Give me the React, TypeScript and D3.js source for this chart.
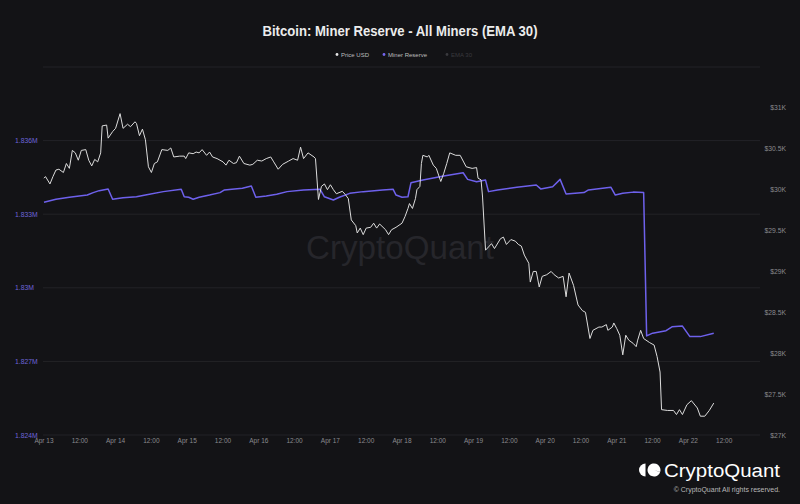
import React, { useRef, useEffect } from 'react';
import * as d3 from 'd3';

// hours counted from Apr 13 00:00 (UTC)
const priceHours = [0,0.5,2,3,4,5,6.5,7.5,8.5,9.5,10.5,11.5,12.5,14,15,16,17,18,19,19.5,21,21.5,23,24,25.5,26.5,28,29,30.5,31,32,33,34,35,36,37,38,39.5,41.5,42.5,43.5,45.5,47,47.5,48.5,50,51,52,53,54.5,55.5,56.5,58,60,61,62,63.5,64.5,65.5,67,69,70,71.5,73,74.5,76,77,78.5,80,82,83.5,85,86,87,88.5,90.5,91,92,93,94,95,96,97,98,100,101,102,103,104.5,105,106,107,108,109.5,110.5,111.5,112.5,114.5,115.5,116.5,118,120,121,122,122.5,123.5,124.5,125,126,126.5,127,128.5,129,130.5,131.5,133,134,135,136,138,139.5,140.5,141.5,143.5,145,145.5,146.5,147,148,149,150,151,153,154,155,156.5,158,159,160,161,162.5,163,164,165,166,167,168.5,170,171,172.5,174,175,176,177.5,179,180.5,181.5,183,184,186,187,188.5,189,190.5,191,192,193,194,195,196,197.5,198.5,199,200,201,203,204.5,205.5,206.5,207,209,211,212,213,214,215.5,217,219,220,221.5,223,224.5];
const priceUsd = [30140,30160,30070,30160,30240,30250,30210,30320,30260,30480,30450,30360,30480,30490,30360,30290,30370,30340,30450,30780,30790,30630,30710,30750,30930,30750,30800,30770,30830,30810,30660,30740,30610,30280,30210,30320,30340,30490,30480,30510,30400,30410,30410,30380,30450,30440,30460,30450,30490,30420,30460,30400,30380,30340,30300,30360,30320,30330,30410,30320,30300,30310,30360,30350,30380,30400,30340,30250,30310,30350,30380,30360,30520,30380,30450,30400,30380,29880,30040,30070,30000,30060,30000,29950,29980,29940,29890,29630,29560,29470,29530,29450,29530,29540,29590,29530,29580,29510,29450,29510,29540,29590,29670,29770,29830,29770,29890,30000,30040,30320,30420,30400,30420,30300,30260,30100,30200,30320,30450,30420,30420,30350,30280,30260,30270,30140,30120,29910,29260,29300,29340,29280,29400,29420,29330,29390,29370,29330,29310,29200,29100,28870,29000,29000,28810,28940,28960,29000,28960,28920,28940,28690,28980,28830,28590,28520,28500,28180,28280,28320,28320,28350,28280,28320,28370,28300,28220,27980,28220,28160,28120,28080,28160,28280,28180,28130,28100,27960,27770,27310,27300,27300,27250,27310,27250,27370,27420,27330,27230,27230,27300,27390];

const reserveHours = [0,4,8.5,14.5,16.5,18.5,21.5,23,26.5,31,34,40,46,47,48.5,50,52,55.5,59,60.5,63,66.5,69.5,71,74.5,78,81.5,87,92.5,94,97,99,102.5,107,113.5,117,118,120,122,123,127,134,140.5,142,145,148,149,152,158.5,165,166.5,170.5,173,175,181,182.5,190,191.5,194,197.5,201,202,204,208.5,210.5,214,216.5,220,224.5];
const reserveBtc = [1833490,1833610,1833690,1833780,1833880,1833960,1834030,1833610,1833670,1833710,1833780,1833920,1834020,1833710,1833690,1833610,1833690,1833780,1833880,1833990,1834020,1834060,1834150,1833690,1833740,1833810,1833920,1833990,1834020,1833710,1833580,1833690,1833850,1833920,1833990,1834020,1833780,1833690,1833710,1834280,1834390,1834560,1834690,1834420,1834320,1834390,1833920,1833990,1834100,1834190,1834030,1834120,1834420,1833820,1833880,1833990,1834100,1833780,1833850,1833900,1833880,1828040,1828150,1828250,1828410,1828440,1828010,1828010,1828150];

const reserveTicks = [1824000, 1827000, 1830000, 1833000, 1836000];
const priceTicks = [27000, 27500, 28000, 28500, 29000, 29500, 30000, 30500, 31000];
const legendItems = ['Price USD', 'Miner Reserve', 'EMA 30'];

const W = 800;
const H = 504;
const start = Date.UTC(2023, 3, 13);
const hourMs = 3600 * 1000;
const toDate = (h: number) => new Date(start + h * hourMs);

const FONT = '"Liberation Sans", Arial, Helvetica, sans-serif';

const App = () => {
  const svgRef = useRef<SVGSVGElement | null>(null);

  useEffect(() => {
    const svg = d3.select(svgRef.current);
    svg.selectAll('*').remove();

    svg.append('rect').attr('width', W).attr('height', H).attr('fill', '#131316');

    const x = d3.scaleUtc()
      .domain([toDate(0), toDate(240)])
      .range([44, 760]);
    const yL = d3.scaleLinear().domain([1824000, 1839000]).range([435, 67]);
    const yR = d3.scaleLinear().domain([27000, 31500]).range([435, 67]);

    // title
    svg.append('text')
      .attr('x', 400).attr('y', 36)
      .attr('text-anchor', 'middle')
      .attr('fill', '#ececec')
      .attr('font-family', '"Liberation Sans Narrow", ' + FONT)
      .attr('font-weight', 700)
      .attr('font-size', 15)
      .attr('textLength', 275)
      .attr('lengthAdjust', 'spacingAndGlyphs')
      .text('Bitcoin: Miner Reserve - All Miners (EMA 30)');

    // legend
    const legendX = [337, 384, 447];
    const legendCol = ['#e6e6e6', '#7466f0', '#3a3a3e'];
    const legendText = ['#bdbdbd', '#bdbdbd', '#3a3a3e'];
    const lg = svg.append('g');
    legendItems.forEach((name, i) => {
      lg.append('circle').attr('cx', legendX[i]).attr('cy', 54.5).attr('r', 1.4).attr('fill', legendCol[i]);
      lg.append('text')
        .attr('x', legendX[i] + 4).attr('y', 56.8)
        .attr('fill', legendText[i])
        .attr('font-family', FONT)
        .attr('font-size', 6)
        .text(name);
    });

    // gridlines
    const grid = svg.append('g');
    [...reserveTicks, 1839000].forEach(v => {
      grid.append('line')
        .attr('x1', 43).attr('x2', 760)
        .attr('y1', yL(v)).attr('y2', yL(v))
        .attr('stroke', '#232327').attr('stroke-width', 1);
    });

    // watermark
    svg.append('text')
      .attr('x', 400).attr('y', 259)
      .attr('text-anchor', 'middle')
      .attr('fill', '#26262b')
      .attr('font-family', FONT)
      .attr('font-size', 33)
      .attr('textLength', 188)
      .attr('lengthAdjust', 'spacingAndGlyphs')
      .text('CryptoQuant');

    // left axis labels
    const fmtM = d3.format('.4~f');
    svg.append('g').selectAll('text')
      .data(reserveTicks)
      .enter().append('text')
      .attr('x', 15).attr('y', d => yL(d) + 2.5)
      .attr('fill', '#6d64d8')
      .attr('font-family', FONT)
      .attr('font-size', 6.8)
      .text(d => fmtM(d / 1e6) + 'M');

    // right axis labels
    const fmtK = d3.format('.1~f');
    svg.append('g').selectAll('text')
      .data(priceTicks)
      .enter().append('text')
      .attr('x', 786).attr('y', d => yR(d) + 2.5)
      .attr('text-anchor', 'end')
      .attr('fill', '#8a8a8e')
      .attr('font-family', FONT)
      .attr('font-size', 6.8)
      .text(d => '$' + fmtK(d / 1000) + 'K');

    // x axis labels
    const fmtDay = d3.utcFormat('%b %-d');
    const xTicks = x.ticks(d3.utcHour.every(12)!).filter(d => d < toDate(240));
    svg.append('g').selectAll('text')
      .data(xTicks)
      .enter().append('text')
      .attr('x', d => x(d))
      .attr('y', 443)
      .attr('text-anchor', 'middle')
      .attr('fill', '#8a8a8e')
      .attr('font-family', FONT)
      .attr('font-size', 6.5)
      .text(d => (d.getUTCHours() === 0 ? fmtDay(d) : '12:00'));

    // lines
    const reserveData = reserveHours.map((h, i) => [toDate(h), reserveBtc[i]] as [Date, number]);
    const priceData = priceHours.map((h, i) => [toDate(h), priceUsd[i]] as [Date, number]);

    svg.append('path')
      .datum(reserveData)
      .attr('fill', 'none')
      .attr('stroke', '#6e61ec')
      .attr('stroke-width', 1.5)
      .attr('stroke-linejoin', 'round')
      .attr('d', d3.line<[Date, number]>().x(d => x(d[0])).y(d => yL(d[1])));

    svg.append('path')
      .datum(priceData)
      .attr('fill', 'none')
      .attr('stroke', '#dcdcdc')
      .attr('stroke-width', 1)
      .attr('stroke-linejoin', 'round')
      .attr('d', d3.line<[Date, number]>().x(d => x(d[0])).y(d => yR(d[1])));

    // brand logo bottom right
    const logo = svg.append('g');
    logo.append('path')
      .attr('d', d3.arc()({ innerRadius: 0, outerRadius: 6.5, startAngle: Math.PI, endAngle: 2 * Math.PI }) as string)
      .attr('transform', 'translate(645.5,470)')
      .attr('fill', '#ffffff');
    logo.append('path')
      .attr('d', d3.arc()({ innerRadius: 0, outerRadius: 6.5, startAngle: 0, endAngle: 1.6 * Math.PI + Math.PI / 2 - 0.35 }) as string)
      .attr('transform', 'translate(654,470) rotate(110)')
      .attr('fill', '#ffffff');
    logo.append('text')
      .attr('x', 664).attr('y', 476.5)
      .attr('fill', '#ffffff')
      .attr('font-family', FONT)
      .attr('font-size', 18)
      .attr('textLength', 116)
      .attr('lengthAdjust', 'spacingAndGlyphs')
      .text('CryptoQuant');
    logo.append('text')
      .attr('x', 780).attr('y', 491.5)
      .attr('text-anchor', 'end')
      .attr('fill', '#b8b8b8')
      .attr('font-family', FONT)
      .attr('font-size', 7)
      .text('© CryptoQuant All rights reserved.');
  }, []);

  return (
    <svg
      ref={svgRef}
      width={W}
      height={H}
      style={{ position: 'absolute', left: 0, top: 0, display: 'block' }}
    />
  );
};

export default App;
